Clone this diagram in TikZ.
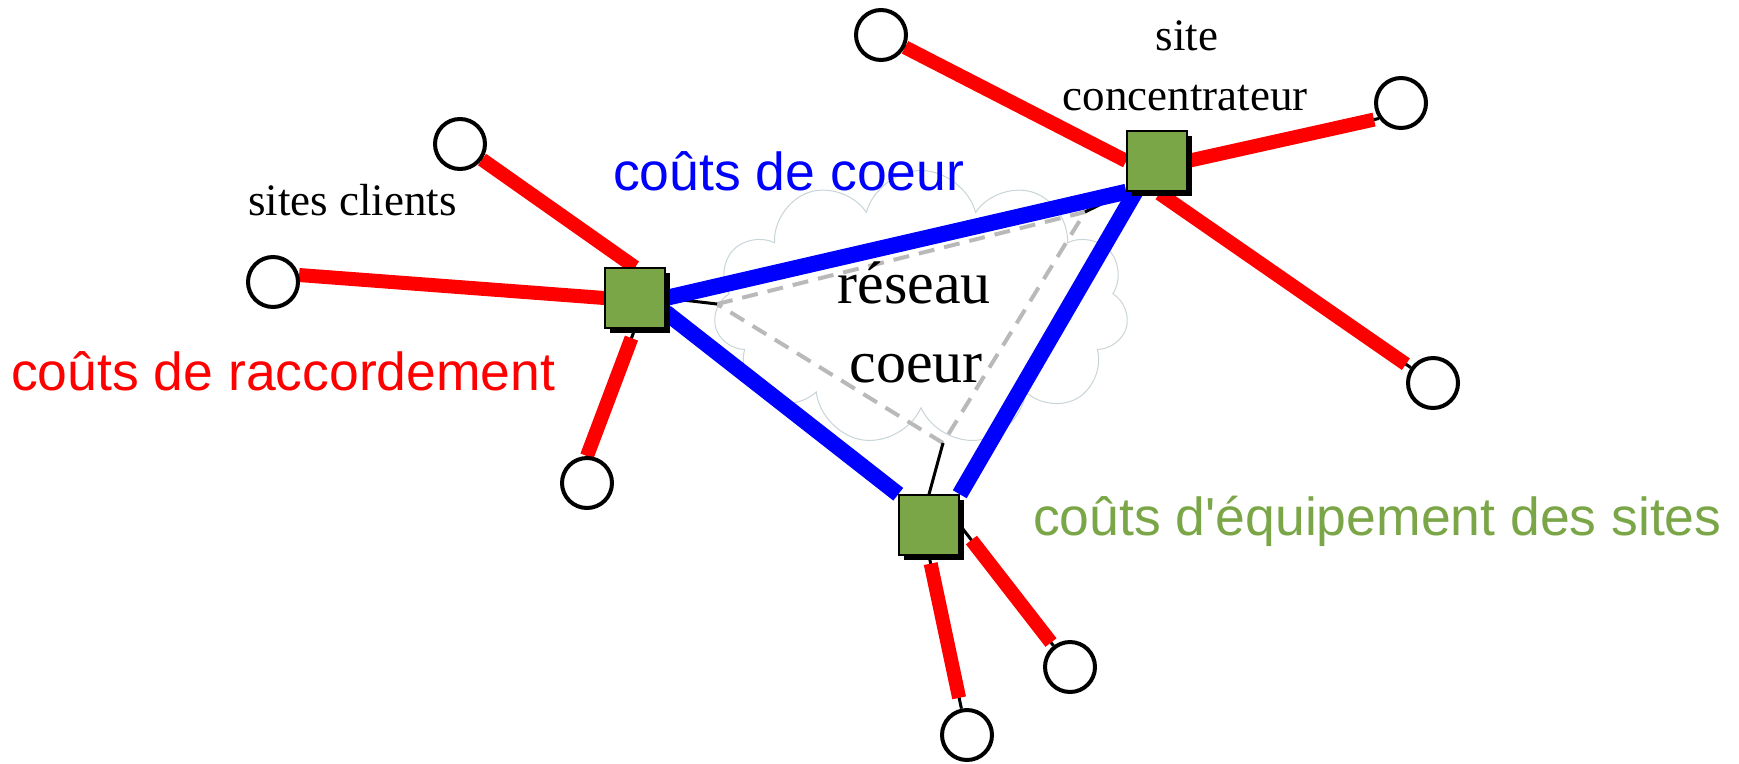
\documentclass[tikz,border=0pt]{standalone}
\usepackage{fontspec}
\setmainfont{Liberation Serif}
\newfontfamily\costfont{Liberation Sans}
\usetikzlibrary{shapes.symbols,shadows}

\definecolor{hubgreen}{RGB}{122,166,72}
\definecolor{cloudgray}{RGB}{200,212,216}
\definecolor{coregray}{RGB}{185,185,185}

\pgfdeclarelayer{background}
\pgfsetlayers{background,main}

\tikzset{
  hub/.style={draw=black, line width=1.5pt, fill=hubgreen, minimum size=60pt, inner sep=0pt,
    drop shadow={shadow xshift=5pt, shadow yshift=-5pt, fill=black, opacity=1}},
  client/.style={circle, draw=black, line width=4pt, fill=white, minimum size=50pt, inner sep=0pt},
  wire/.style={black, line width=3pt},
  access/.style={red, line width=14pt},
  core/.style={blue, line width=16pt},
  corelink/.style={coregray, line width=4pt, dash pattern=on 16pt off 10pt},
  cost/.style={font=\costfont\fontsize{53.5}{64}\selectfont, inner sep=0pt, anchor=base west},
  tag/.style={font=\fontsize{45}{54}\selectfont, inner sep=0pt, anchor=base},
  bigtag/.style={font=\fontsize{60}{72}\selectfont, inner sep=0pt, anchor=base},
}

\begin{document}
\begin{tikzpicture}[x=1pt, y=-1pt]
\useasboundingbox (0,0) rectangle (1739,763);

% Hub sites
\node[hub] (hA) at (635,298) {};
\node[hub] (hB) at (1157,161) {};
\node[hub] (hC) at (929,525) {};

% Client sites
\node[client] (sA1) at (460,144) {};
\node[client] (sA2) at (273,282) {};
\node[client] (sA3) at (587,483) {};
\node[client] (sB1) at (881,35) {};
\node[client] (sB2) at (1401,103) {};
\node[client] (sB3) at (1433,383) {};
\node[client] (sC1) at (1070,667) {};
\node[client] (sC2) at (967,735) {};

\begin{pgfonlayer}{background}
% Core network cloud
\node[cloud, cloud puffs=11, aspect=1.5, draw=cloudgray, line width=1pt,
  minimum width=415pt, minimum height=275pt] (cloud) at (921,308) {};
\coordinate (cA) at (717,304);
\coordinate (cB) at (1085,212);
\coordinate (cC) at (943,443);
\draw[corelink] (cA) -- (cB) -- (cC) -- cycle;
\draw[wire] (hA.east) -- (cA);
\draw[wire] (hB.south west) -- (cB);
\draw[wire] (hC.north) -- (cC);

% Access links
\foreach \s/\h/\a/\b in {sA1/hA.north/0/0, sA2.15/hA.west/0/0, sA3.north/hA.south/0/10,
    sB1/hB.west/0/0, sB2.215/hB.east/5/3, sB3/hB.south/6/3,
    sC1/hC.east/4/19, sC2/hC.south/11/8} {
  \draw[wire] (\s) -- (\h);
  \draw[access, shorten <=\a pt, shorten >=\b pt] (\s) -- (\h);
}

% Core links
\draw[core] (hA.east) -- (hB.south west);
\draw[core] (hA.-25) -- (hC.north west);
\draw[core] (hB.-125) -- (hC.north east);
\end{pgfonlayer}

% Labels
\node[cost, text=blue] (lcore) at (613,190) {coûts de coeur};
\node[cost, text=red] (laccess) at (11,390) {coûts de raccordement};
\node[cost, text=hubgreen] (lhub) at (1033,535) {coûts d'équipement des sites};
\node[tag, anchor=base west] (lclients) at (248,215) {sites clients};
\node[tag] (lsite) at (1187,50) {site};
\node[tag] (lconc) at (1185,110) {concentrateur};
\node[bigtag] (lres) at (914,303) {réseau};
\node[bigtag] (lcoeur) at (916,382) {coeur};

\end{tikzpicture}
\end{document}
